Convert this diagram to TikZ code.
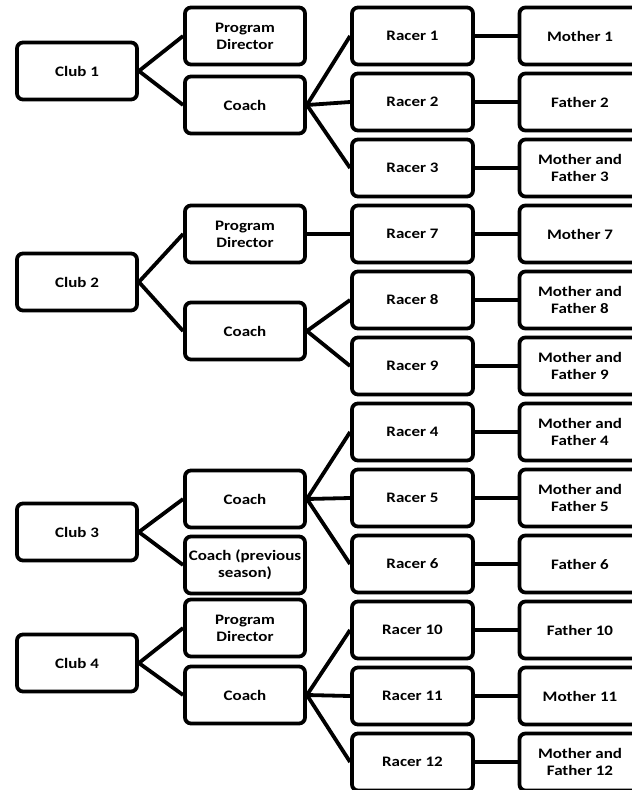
\documentclass[tikz,border=0pt]{standalone}
\usepackage{fontspec}
\setmainfont{Carlito}
\newfontfamily\boxfont[FakeStretch=1.17]{Carlito}
\begin{document}
\begin{tikzpicture}[x=1pt,y=-1pt,
  box/.style={draw=black,line width=3.8pt,rounded corners=6pt,fill=white,
    minimum width=120pt,minimum height=57pt,inner sep=1pt,align=center,
    font=\boxfont\fontsize{14.5}{16.8}\selectfont\bfseries},
  link/.style={line width=3.8pt,draw=black}]
\useasboundingbox (0,0) rectangle (632,790);
% clubs
\node[box] (club1) at (77,71) {Club 1};
\node[box] (club2) at (77,282) {Club 2};
\node[box] (club3) at (77,532) {Club 3};
\node[box] (club4) at (77,663) {Club 4};
% second column
\node[box] (pd1) at (245,36) {Program\\Director};
\node[box] (co1) at (245,105) {Coach};
\node[box] (pd2) at (245,234) {Program\\Director};
\node[box] (co2) at (245,331) {Coach};
\node[box] (co3) at (245,499) {Coach};
\node[box] (cp3) at (245,565) {Coach (previous\\season)};
\node[box] (pd4) at (245,628) {Program\\Director};
\node[box] (co4) at (245,695) {Coach};
% racers
\foreach \n/\k in {1/0,2/1,3/2,7/3,8/4,9/5,4/6,5/7,6/8,10/9,11/10,12/11}{
  \node[box,minimum width=121pt] (r\n) at (412.5,36+66*\k) {Racer \n};
}
% parents
\node[box,minimum width=121pt] (p1) at (580,36) {Mother 1};
\node[box,minimum width=121pt] (p2) at (580,102) {Father 2};
\node[box,minimum width=121pt] (p3) at (580,168) {Mother and\\Father 3};
\node[box,minimum width=121pt] (p7) at (580,234) {Mother 7};
\node[box,minimum width=121pt] (p8) at (580,300) {Mother and\\Father 8};
\node[box,minimum width=121pt] (p9) at (580,366) {Mother and\\Father 9};
\node[box,minimum width=121pt] (p4) at (580,432) {Mother and\\Father 4};
\node[box,minimum width=121pt] (p5) at (580,498) {Mother and\\Father 5};
\node[box,minimum width=121pt] (p6) at (580,564) {Father 6};
\node[box,minimum width=121pt] (p10) at (580,630) {Father 10};
\node[box,minimum width=121pt] (p11) at (580,696) {Mother 11};
\node[box,minimum width=121pt] (p12) at (580,762) {Mother and\\Father 12};
% connectors
\draw[link] (pd1.west) -- (club1.east) -- (co1.west);
\draw[link] (pd2.west) -- (club2.east) -- (co2.west);
\draw[link] (co3.west) -- (club3.east) -- (cp3.west);
\draw[link] (pd4.west) -- (club4.east) -- (co4.west);
\draw[link] (r1.west) -- (co1.east) -- (r3.west);
\draw[link] (co1.east) -- (r2.west);
\draw[link] (pd2.east) -- (r7.west);
\draw[link] (r8.west) -- (co2.east) -- (r9.west);
\draw[link] (r4.west) -- (co3.east) -- (r6.west);
\draw[link] (co3.east) -- (r5.west);
\draw[link] (r10.west) -- (co4.east) -- (r12.west);
\draw[link] (co4.east) -- (r11.west);
\foreach \n in {1,2,3,4,5,6,7,8,9,10,11,12}{
  \draw[link] (r\n.east) -- (p\n.west);
}
\end{tikzpicture}
\end{document}
